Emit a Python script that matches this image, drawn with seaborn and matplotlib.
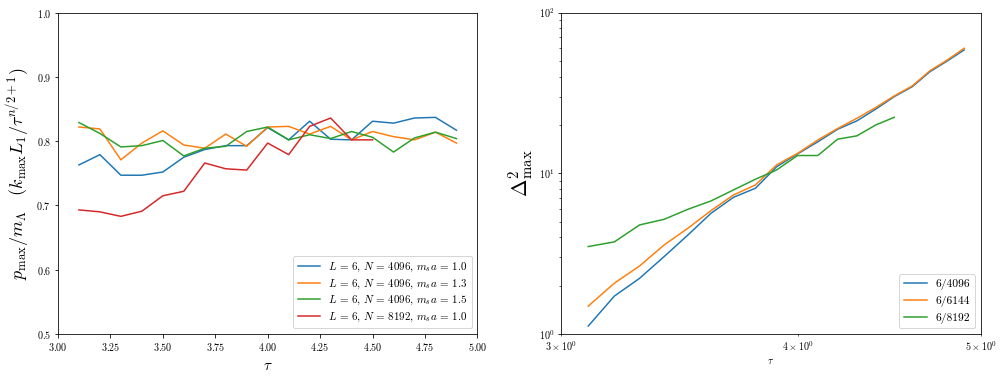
import numpy as np
import pandas as pd
import seaborn as sns
import matplotlib.pyplot as plt

plt.rcParams['font.family'] = 'cmr10'
plt.rcParams['mathtext.fontset'] = 'cm'
plt.rcParams['axes.formatter.use_mathtext'] = True

tau = [3.1, 3.2, 3.3, 3.4, 3.5, 3.6, 3.7, 3.8, 3.9, 4.0,
       4.1, 4.2, 4.3, 4.4, 4.5, 4.6, 4.7, 4.8, 4.9]

# left panel: p_max / m_Lambda
p_4096_10 = [0.763, 0.779, 0.747, 0.747, 0.752, 0.775, 0.787, 0.793, 0.793, 0.821,
             0.802, 0.831, 0.803, 0.802, 0.831, 0.828, 0.836, 0.837, 0.817]
p_4096_13 = [0.822, 0.819, 0.771, 0.797, 0.816, 0.794, 0.789, 0.811, 0.792, 0.822,
             0.823, 0.811, 0.823, 0.802, 0.815, 0.807, 0.802, 0.814, 0.797]
p_4096_15 = [0.829, 0.812, 0.791, 0.793, 0.801, 0.777, 0.789, 0.792, 0.815, 0.822,
             0.802, 0.810, 0.804, 0.815, 0.806, 0.783, 0.805, 0.814, 0.804]
p_8192_10 = [0.693, 0.690, 0.683, 0.691, 0.715, 0.722, 0.766, 0.757, 0.755, 0.797,
             0.779, 0.823, 0.836, 0.802, 0.802]

labels_left = [r'$L\,=\,6,\,N\,=\,4096,\,m_s a\,=\,1.0$', r'$L\,=\,6,\,N\,=\,4096,\,m_s a\,=\,1.3$',
               r'$L\,=\,6,\,N\,=\,4096,\,m_s a\,=\,1.5$', r'$L\,=\,6,\,N\,=\,8192,\,m_s a\,=\,1.0$']

# right panel: Delta^2_max
d_4096 = [1.12, 1.72, 2.22, 3.03, 4.13, 5.64, 7.09, 8.07, 11.0, 13.2,
          15.7, 18.8, 21.2, 25.1, 30.0, 34.6, 42.9, 50.0, 58.6]
d_6144 = [1.49, 2.07, 2.65, 3.58, 4.55, 5.86, 7.33, 8.46, 11.3, 13.3,
          16.1, 19.0, 22.0, 25.7, 30.3, 35.0, 43.5, 50.7, 60.0]
d_8192 = [3.50, 3.74, 4.77, 5.17, 5.97, 6.73, 7.88, 9.18, 10.5, 12.9,
          12.9, 16.3, 17.1, 20.0, 22.3]

labels_right = ['6/4096', '6/6144', '6/8192']


def long_form(series, labels, yname):
    parts = []
    for s, lab in zip(series, labels):
        parts.append(pd.DataFrame({'tau': tau[:len(s)], yname: s, 'run': lab}))
    return pd.concat(parts, ignore_index=True)


df_p = long_form([p_4096_10, p_4096_13, p_4096_15, p_8192_10], labels_left, 'p')
df_d = long_form([d_4096, d_6144, d_8192], labels_right, 'd')

fig, (ax1, ax2) = plt.subplots(1, 2, figsize=(14, 5.32), dpi=72)
fig.subplots_adjust(left=0.0575, right=0.973, top=0.967, bottom=0.128, wspace=0.2)

sns.lineplot(data=df_p, x='tau', y='p', hue='run', hue_order=labels_left,
             palette='tab10', sort=False, ax=ax1)
ax1.set_xlim(3.0, 5.0)
ax1.set_ylim(0.5, 1.0)
ax1.set_xticks(np.arange(3.0, 5.01, 0.25))
ax1.set_xlabel(r'$\tau$', fontsize=15, labelpad=6)
ax1.set_ylabel(r'$p_{\rm max}/m_\Lambda \quad (k_{\rm max}L_1/\tau^{n/2+1})$', fontsize=18)
sns.move_legend(ax1, 'lower right', title=None, fontsize=11, labelspacing=0.3)

sns.lineplot(data=df_d, x='tau', y='d', hue='run', hue_order=labels_right,
             palette='tab10', sort=False, ax=ax2)
ax2.set_xscale('log')
ax2.set_yscale('log')
ax2.set_xlim(3.0, 5.0)
ax2.set_ylim(1.0, 100.0)
ax2.set_xlabel(r'$\tau$')
ax2.set_ylabel(r'$\Delta^2_{\rm max}$', fontsize=21)
sns.move_legend(ax2, 'lower right', title=None, fontsize=11.5)

fig.savefig('out.png', dpi=72)
